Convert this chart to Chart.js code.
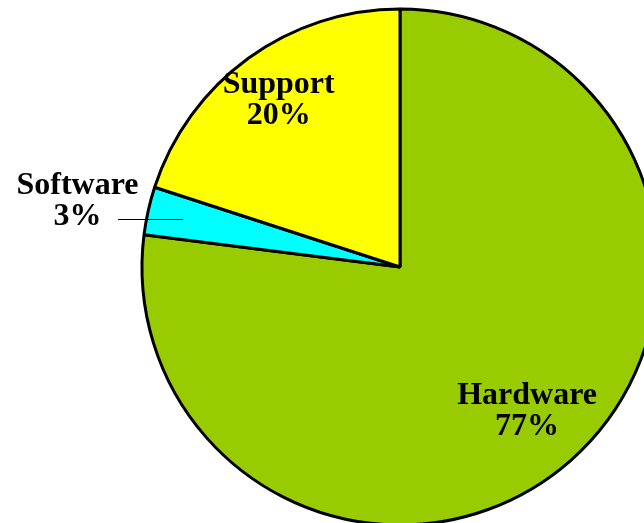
<!DOCTYPE html>
<html>
<head>
<meta charset="utf-8">
<script src="https://cdn.jsdelivr.net/npm/chart.js@4.4.1/dist/chart.umd.min.js"></script>
<style>
  html, body { margin: 0; padding: 0; background: #fff; overflow: hidden; width: 644px; height: 523px; }
  #wrap { position: absolute; left: 0; top: 0; width: 700px; height: 545px; }
</style>
</head>
<body>
<div id="wrap"><canvas id="pie" width="700" height="545"></canvas></div>
<script>
const categories = ['Hardware', 'Software', 'Support'];
const shares = [77, 3, 20];
const sliceColors = ['#99cc00', '#00ffff', '#ffff00'];

// where each label sits: fraction of the radius, and whether it is pulled out with a leader line
const labelSpots = [
  { r: 0.745, outside: false },
  { r: 0.86, outside: true, leader: 65, gap: 41 },
  { r: 0.80, outside: false }
];

const labelFont = 'bold 32px "Liberation Serif", "Times New Roman", serif';

const sliceLabels = {
  id: 'sliceLabels',
  afterDatasetsDraw(chart) {
    const ctx = chart.ctx;
    const arcs = chart.getDatasetMeta(0).data;
    ctx.save();
    ctx.font = labelFont;
    ctx.fillStyle = '#000';
    ctx.textAlign = 'center';
    ctx.textBaseline = 'middle';
    arcs.forEach((arc, i) => {
      const p = arc.getProps(['x', 'y', 'startAngle', 'endAngle', 'outerRadius'], true);
      const mid = (p.startAngle + p.endAngle) / 2;
      const spot = labelSpots[i];
      let x = p.x + Math.cos(mid) * p.outerRadius * spot.r;
      let y = p.y + Math.sin(mid) * p.outerRadius * spot.r;
      const lines = [categories[i], shares[i] + '%'];
      if (spot.outside) {
        const endX = x - spot.leader;
        ctx.beginPath();
        ctx.strokeStyle = '#000';
        ctx.lineWidth = 1;
        ctx.moveTo(Math.round(x), Math.round(y) + 0.5);
        ctx.lineTo(Math.round(endX), Math.round(y) + 0.5);
        ctx.stroke();
        x = endX - spot.gap;
        y = y - 18;
      }
      ctx.fillText(lines[0], x, y - 15);
      ctx.fillText(lines[1], x, y + 16);
    });
    ctx.restore();
  }
};

new Chart(document.getElementById('pie'), {
  type: 'pie',
  data: {
    labels: categories,
    datasets: [{
      data: shares,
      backgroundColor: sliceColors,
      borderColor: '#000',
      borderWidth: 3
    }]
  },
  options: {
    responsive: false,
    animation: false,
    layout: { padding: { left: 140.5, top: 7.5, right: 40.5, bottom: 18.5 } },
    plugins: {
      legend: { display: false },
      tooltip: { enabled: false }
    }
  },
  plugins: [sliceLabels]
});
</script>
</body>
</html>
